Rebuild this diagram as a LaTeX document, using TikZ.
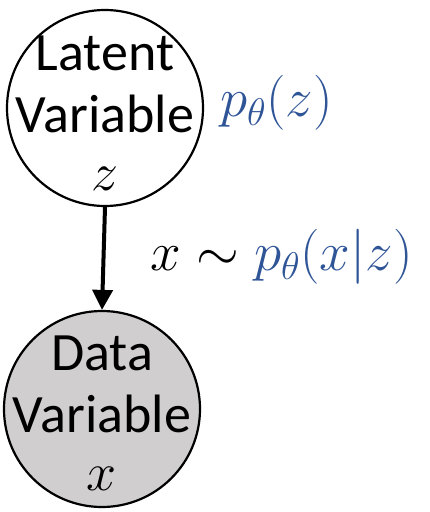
\RequirePackage{fix-cm}
\documentclass[tikz,border=0pt]{standalone}
\usepackage{fontspec}
\setmainfont{Carlito}
\usetikzlibrary{arrows.meta,calc}
\definecolor{offblue}{HTML}{2F5597}
\definecolor{offgray}{HTML}{D0CECE}
\begin{document}
\begin{tikzpicture}[x=1pt,y=-1pt,
  varnode/.style={circle, draw=black, line width=2.2pt, minimum size=196pt, inner sep=0pt},
  vartext/.style={align=center, font=\fontsize{54}{62}\selectfont, inner sep=0pt},
  mathlbl/.style={font=\fontsize{55}{62}\selectfont, inner sep=0pt}]
\useasboundingbox (0,0) rectangle (429,512);
\node[varnode, fill=white] (lat) at (105,108) {};
\node[varnode, fill=offgray] (dat) at (102,409) {};
\node[vartext, anchor=north] (latt) at (105,36) {Latent\\Variable\\[-4pt]$z$};
\node[vartext, anchor=north] (datt) at (102,336) {Data\\Variable\\[-4pt]$x$};
\draw[line width=4pt, -{Triangle[length=20pt,width=20pt]}] (lat.south) -- (dat.north);
\node[mathlbl, text=offblue, anchor=west] (pz) at (220,103) {$p_\theta(z)$};
\node[mathlbl, anchor=west] (pxz) at (150,257) {$x\;{\sim}\;\textcolor{offblue}{p_\theta(x|z)}$};
\end{tikzpicture}
\end{document}
